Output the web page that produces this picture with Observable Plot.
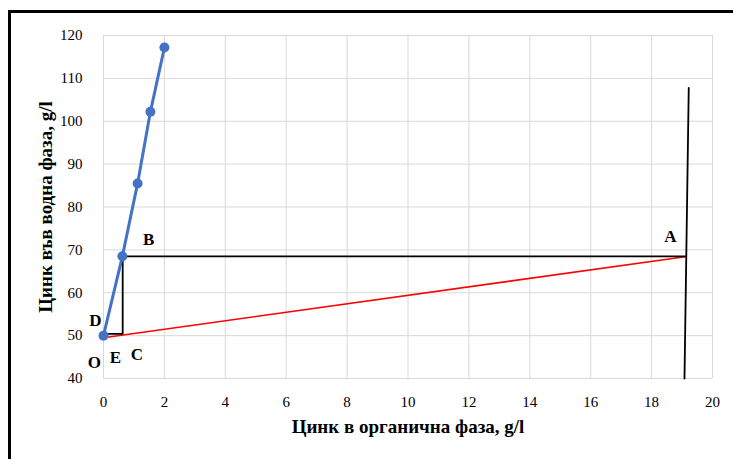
<!DOCTYPE html>
<html>
<head>
<meta charset="utf-8">
<script src="https://cdn.jsdelivr.net/npm/d3@7"></script>
<script src="https://cdn.jsdelivr.net/npm/@observablehq/plot@0.6"></script>
<style>
  html, body { margin: 0; padding: 0; background: #fff; overflow: hidden; }
  #wrap { position: relative; width: 733px; height: 459px; }
  #frame { position: absolute; left: 8px; top: 10px; width: 740px; height: 470px;
           border-left: 3px solid #000; border-top: 3px solid #000; pointer-events: none; }
  #chart { position: absolute; left: 0; top: 0; }
</style>
</head>
<body>
<div id="wrap"><div id="chart"></div><div id="frame"></div></div>
<script>
// Equilibrium curve (blue)
const curveX = [0, 0.62, 1.12, 1.54, 2.0];
const curveY = [50, 68.5, 85.5, 102.2, 117.2];
// Step construction (black): D -> C -> B -> A
const stepX = [0, 0.63, 0.63, 19.1];
const stepY = [50.4, 50.4, 68.5, 68.5];
// Operating line (red)
const opX = [0, 19.1];
const opY = [49.5, 68.4];
// Near-vertical black line through A
const vertX = [19.08, 19.22];
const vertY = [40, 107.8];
// Point labels
const labelText = ["A", "B", "C", "D", "E", "O"];
const labelX = [18.62, 1.48, 1.1, -0.27, 0.39, -0.3];
const labelY = [73.1, 72.5, 45.5, 53.5, 45.0, 43.8];
// Ticks
const xTicks = [0, 2, 4, 6, 8, 10, 12, 14, 16, 18, 20];
const yTicks = [40, 50, 60, 70, 80, 90, 100, 110, 120];
const xTitle = "Цинк в органична фаза, g/l";
const yTitle = "Цинк във водна фаза, g/l";

const curve = curveX.map((x, i) => ({x, y: curveY[i]}));
const step = stepX.map((x, i) => ({x, y: stepY[i]}));
const op = opX.map((x, i) => ({x, y: opY[i]}));
const vert = vertX.map((x, i) => ({x, y: vertY[i]}));
const labels = labelText.map((t, i) => ({t, x: labelX[i], y: labelY[i]}));

const chart = Plot.plot({
  width: 733,
  height: 459,
  marginLeft: 103,
  marginRight: 21,
  marginTop: 35,
  marginBottom: 81,
  style: {fontFamily: "'Liberation Serif', serif", fontSize: "15px", color: "#000", background: "transparent"},
  x: {domain: [0, 20]},
  y: {domain: [40, 120]},
  marks: [
    Plot.gridX(xTicks, {stroke: "#d9d9d9", strokeOpacity: 1, strokeWidth: 1}),
    Plot.gridY(yTicks, {stroke: "#d9d9d9", strokeOpacity: 1, strokeWidth: 1}),
    Plot.axisX(xTicks, {tickSize: 0, tickPadding: 18, fontSize: 15, label: null}),
    Plot.axisY(yTicks, {tickSize: 0, tickPadding: 21, fontSize: 15, label: null}),
    Plot.text([xTitle], {frameAnchor: "bottom", dy: 48, fontWeight: "bold", fontSize: 19, lineAnchor: "middle"}),
    Plot.text([yTitle], {frameAnchor: "left", dx: -58, rotate: -90, textAnchor: "middle", fontWeight: "bold", fontSize: 19, lineAnchor: "middle"}),
    Plot.line(op, {x: "x", y: "y", stroke: "#ff0000", strokeWidth: 1.6}),
    Plot.line(step, {x: "x", y: "y", stroke: "#000", strokeWidth: 1.8, strokeLinejoin: "miter"}),
    Plot.line(vert, {x: "x", y: "y", stroke: "#000", strokeWidth: 1.8}),
    Plot.line(curve, {x: "x", y: "y", stroke: "#4472c4", strokeWidth: 3}),
    Plot.dot(curve, {x: "x", y: "y", fill: "#4472c4", r: 5}),
    Plot.text(labels, {x: "x", y: "y", text: "t", fontWeight: "bold", fontSize: 17, fill: "#000"})
  ]
});
document.getElementById("chart").appendChild(chart);
</script>
</body>
</html>
